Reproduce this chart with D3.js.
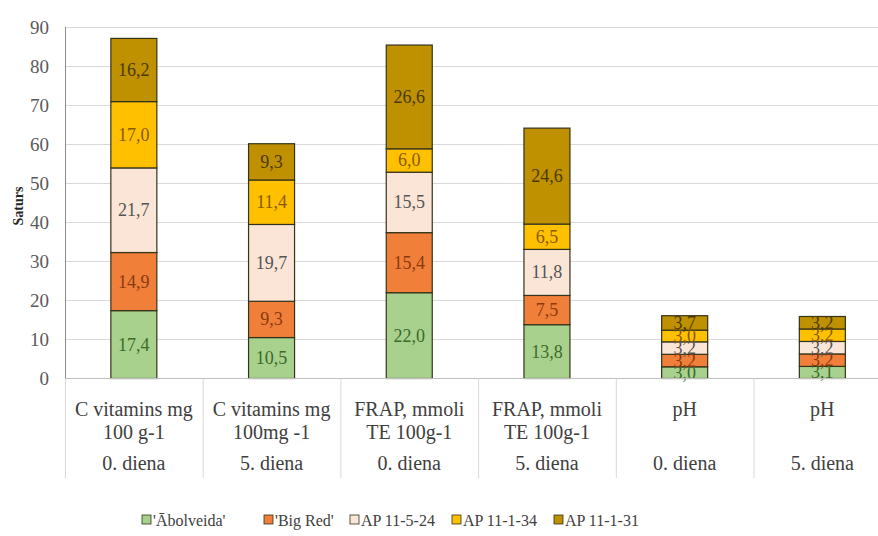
<!DOCTYPE html>
<html><head><meta charset="utf-8">
<script src="https://cdn.jsdelivr.net/npm/d3@7"></script>
<style>body{margin:0;background:#fff}</style>
</head><body>
<svg id="c" width="878" height="536"></svg>
<script>
const categories = ["C vitamins mg|100 g-1", "C vitamins mg|100mg -1", "FRAP, mmoli|TE 100g-1", "FRAP, mmoli|TE 100g-1", "pH", "pH"];
const days = ["0. diena", "5. diena", "0. diena", "5. diena", "0. diena", "5. diena"];
const seriesNames = ["'Ābolveida'", "'Big Red'", "AP 11-5-24", "AP 11-1-34", "AP 11-1-31"];
const abolveida = [17.4, 10.5, 22.0, 13.8, 3.0, 3.1];
const bigRed   = [14.9, 9.3, 15.4, 7.5, 3.2, 3.2];
const ap11524  = [21.7, 19.7, 15.5, 11.8, 3.2, 3.2];
const ap11134  = [17.0, 11.4, 6.0, 6.5, 3.0, 3.2];
const ap11131  = [16.2, 9.3, 26.6, 24.6, 3.7, 3.2];
const yTicks = [0, 10, 20, 30, 40, 50, 60, 70, 80, 90];
const colors = ["#a9d18e", "#f07f3a", "#fbe5d6", "#ffc000", "#bf9000"];
const labelColors = ["#3b6b2a", "#8a3a10", "#555555", "#8a5a00", "#4a3a00"];

const FONT = '"Liberation Serif"';
const seriesVals = [abolveida, bigRed, ap11524, ap11134, ap11131];
const data = categories.map((c, i) => {
  const o = {i};
  seriesNames.forEach((s, k) => o[s] = seriesVals[k][i]);
  return o;
});
const stack = d3.stack().keys(seriesNames)(data);

const svg = d3.select("#c");
const left = 65, band = 137.7;
const x = d3.scaleBand().domain(d3.range(6)).range([left, left + band * 6]).paddingInner(0).paddingOuter(0);
const y = d3.scaleLinear().domain([0, 90]).range([378.5, 27.5]);
const barW = 46;

svg.append("g").selectAll("line").data(yTicks.slice(1)).join("line")
  .attr("x1", left).attr("x2", 878).attr("y1", d => y(d)).attr("y2", d => y(d))
  .attr("stroke", "#d9d9d9").attr("stroke-width", 1);

svg.append("g").selectAll("text").data(yTicks).join("text")
  .attr("x", 49).attr("y", d => y(d) + 6).attr("text-anchor", "end")
  .style("font-family", FONT).attr("font-size", 19).attr("fill", "#595959").text(d => d);

svg.append("text").attr("transform", `translate(23,${y(45) + 3}) rotate(-90)`)
  .attr("text-anchor", "middle").style("font-family", FONT).attr("font-size", 14).attr("font-weight", "bold")
  .attr("fill", "#262626").text("Saturs");

const g = svg.append("g");
stack.forEach((layer, k) => {
  g.append("g").selectAll("rect").data(layer).join("rect")
    .attr("x", (d, i) => x(i) + (band - barW) / 2)
    .attr("width", barW)
    .attr("y", d => y(d[1]))
    .attr("height", d => y(d[0]) - y(d[1]))
    .attr("fill", colors[k]).attr("stroke", "#33331a").attr("stroke-width", 1.2);
});
stack.forEach((layer, k) => {
  g.append("g").selectAll("text").data(layer).join("text")
    .attr("x", (d, i) => x(i) + band / 2)
    .attr("y", d => (y(d[0]) + y(d[1])) / 2 + 6)
    .attr("text-anchor", "middle").style("font-family", FONT).attr("font-size", 18)
    .attr("fill", labelColors[k])
    .text(d => d3.format(".1f")(d[1] - d[0]).replace(".", ","));
});

svg.append("line").attr("x1", left).attr("x2", 878).attr("y1", 378.5).attr("y2", 378.5).attr("stroke", "#bfbfbf");
svg.append("line").attr("x1", left + 0.5).attr("x2", left + 0.5).attr("y1", 27).attr("y2", 378.5).attr("stroke", "#8c8c8c");

svg.append("g").selectAll("line").data(d3.range(7)).join("line")
  .attr("x1", i => left + i * band + 0.5).attr("x2", i => left + i * band + 0.5)
  .attr("y1", 378.5).attr("y2", 478).attr("stroke", "#d9d9d9");

const cg = svg.append("g");
categories.forEach((c, i) => {
  const lines = c.split("|");
  lines.forEach((l, j) => {
    cg.append("text").attr("x", x(i) + band / 2).attr("y", 416 + j * 23)
      .attr("text-anchor", "middle").style("font-family", FONT).attr("font-size", 20).attr("fill", "#404040").text(l);
  });
  cg.append("text").attr("x", x(i) + band / 2).attr("y", 470)
    .attr("text-anchor", "middle").style("font-family", FONT).attr("font-size", 20).attr("fill", "#404040").text(days[i]);
});

const legX = [142, 264, 350, 452, 554];
const lg = svg.append("g");
seriesNames.forEach((s, k) => {
  lg.append("rect").attr("x", legX[k]).attr("y", 515).attr("width", 9).attr("height", 9)
    .attr("fill", colors[k]).attr("stroke", "#33331a").attr("stroke-width", 0.8);
  lg.append("text").attr("x", legX[k] + 11).attr("y", 526).style("font-family", FONT).attr("font-size", 16)
    .attr("fill", "#404040").text(s);
});
</script>
</body></html>
